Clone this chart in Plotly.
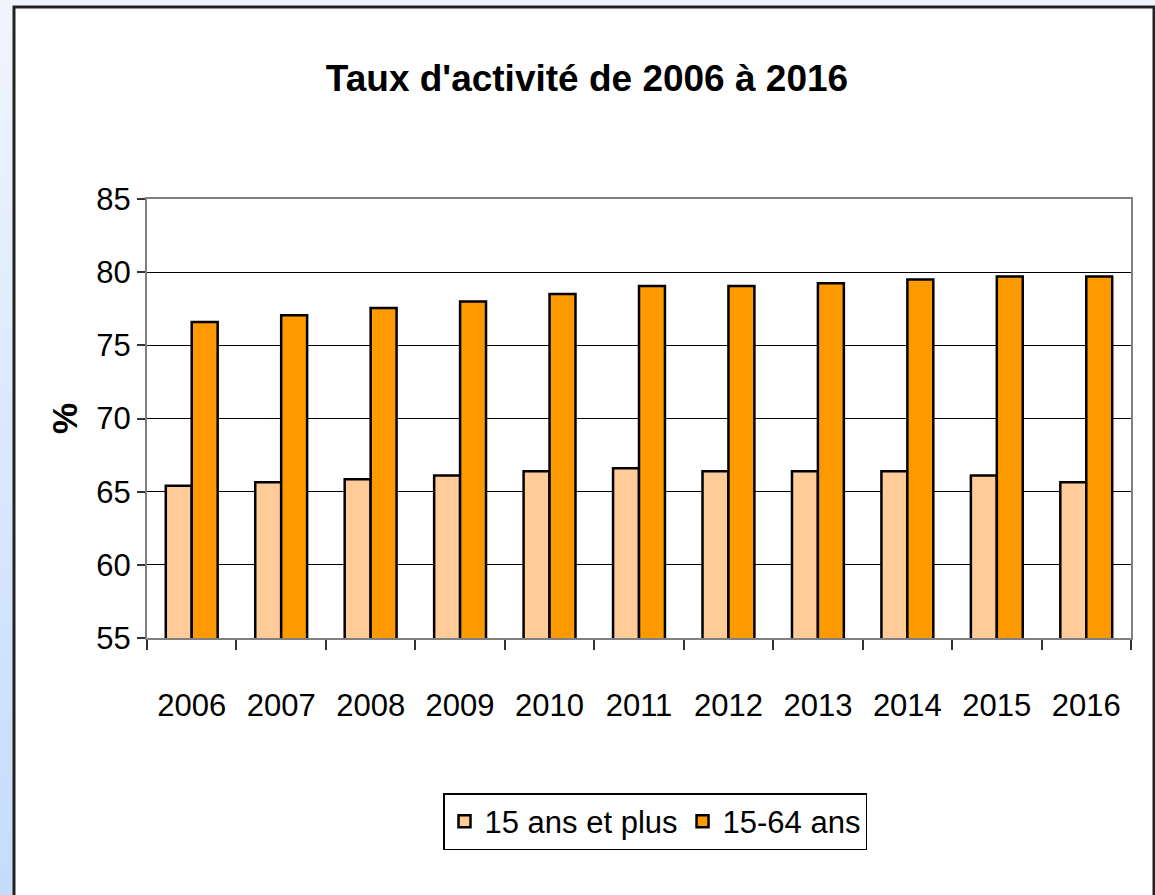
import plotly.graph_objects as go

years = ["2006", "2007", "2008", "2009", "2010", "2011", "2012", "2013", "2014", "2015", "2016"]
taux_15_plus = [65.4, 65.65, 65.85, 66.1, 66.4, 66.6, 66.4, 66.4, 66.4, 66.1, 65.65]
taux_15_64 = [76.6, 77.05, 77.55, 78.0, 78.5, 79.05, 79.05, 79.25, 79.5, 79.7, 79.7]

series_names = ["15 ans et plus", "15-64 ans"]
y_ticks = [55, 60, 65, 70, 75, 80, 85]

FONT = "Liberation Sans Narrow, Arial Narrow, Liberation Sans, Arial, sans-serif"

W, H = 1155, 895
ML, MR, MT, MB = 147, 24, 199, 257
pw, ph = W - ML - MR, H - MT - MB

def px_x(p):
    return (p - ML) / pw

def px_y(p):
    return (H - MB - p) / ph

fig = go.Figure()
fig.add_trace(go.Bar(
    x=years, y=taux_15_plus, name=series_names[0],
    marker=dict(color="#FFCC99", line=dict(color="black", width=2.5)),
))
fig.add_trace(go.Bar(
    x=years, y=taux_15_64, name=series_names[1],
    marker=dict(color="#FF9900", line=dict(color="black", width=2.5)),
))

shapes = []
# background gradient bands (decorative)
n = 30
c_top = (0xF0, 0xF4, 0xFC)
c_bot = (0xC4, 0xDC, 0xFC)
for i in range(n):
    t = i / (n - 1)
    col = tuple(int(round(c_top[k] + (c_bot[k] - c_top[k]) * t)) for k in range(3))
    y0p = i * H / n
    y1p = (i + 1) * H / n + 1
    shapes.append(dict(type="rect", xref="paper", yref="paper", layer="below",
                       x0=px_x(0), x1=px_x(W), y0=px_y(y1p), y1=px_y(y0p),
                       fillcolor="rgb(%d,%d,%d)" % col, line=dict(width=0)))
# white chart frame
shapes.append(dict(type="rect", xref="paper", yref="paper", layer="below",
                   x0=px_x(14), x1=px_x(1154), y0=px_y(905), y1=px_y(7),
                   fillcolor="white", line=dict(color="#222222", width=3)))

fig.update_layout(
    width=W, height=H,
    margin=dict(l=ML, r=MR, t=MT, b=MB),
    paper_bgcolor="#DCE8FC",
    plot_bgcolor="white",
    barmode="group",
    bargap=0.42,
    bargroupgap=0,
    font=dict(family=FONT, color="black", size=31),
    title=dict(text="<b>Taux d'activité de 2006 à 2016</b>",
               font=dict(family=FONT, size=37, color="black"),
               x=587 / W, xanchor="center", xref="container",
               y=1 - 78 / H, yanchor="middle", yref="container"),
    shapes=shapes,
    legend=dict(orientation="h", x=px_x(655), xanchor="center",
                y=px_y(793), yanchor="top",
                bgcolor="white", bordercolor="black", borderwidth=1.5,
                font=dict(family=FONT, size=31, color="black"),
                itemwidth=30, tracegroupgap=0),
    showlegend=True,
)

fig.update_xaxes(
    type="category",
    showline=True, linecolor="#808080", linewidth=2, mirror=True,
    ticks="outside", tickson="boundaries", ticklen=10, tickcolor="#333333", tickwidth=1.5,
    tickfont=dict(family=FONT, size=31, color="black"),
    ticklabelstandoff=39,
    showgrid=False,
)
fig.update_yaxes(
    range=[55, 85], tickvals=y_ticks,
    showline=True, linecolor="#808080", linewidth=2, mirror=True,
    ticks="outside", ticklen=8, tickcolor="#333333", tickwidth=1.5,
    tickfont=dict(family=FONT, size=31, color="black"),
    showgrid=True, gridcolor="black", gridwidth=1,
    zeroline=False,
    title=dict(text="<b>%</b>", font=dict(family=FONT, size=35, color="black"), standoff=8),
)

fig.write_html("out.html", config={"displayModeBar": False},
               post_script="document.body.style.margin='0px';document.body.style.overflow='hidden';")
